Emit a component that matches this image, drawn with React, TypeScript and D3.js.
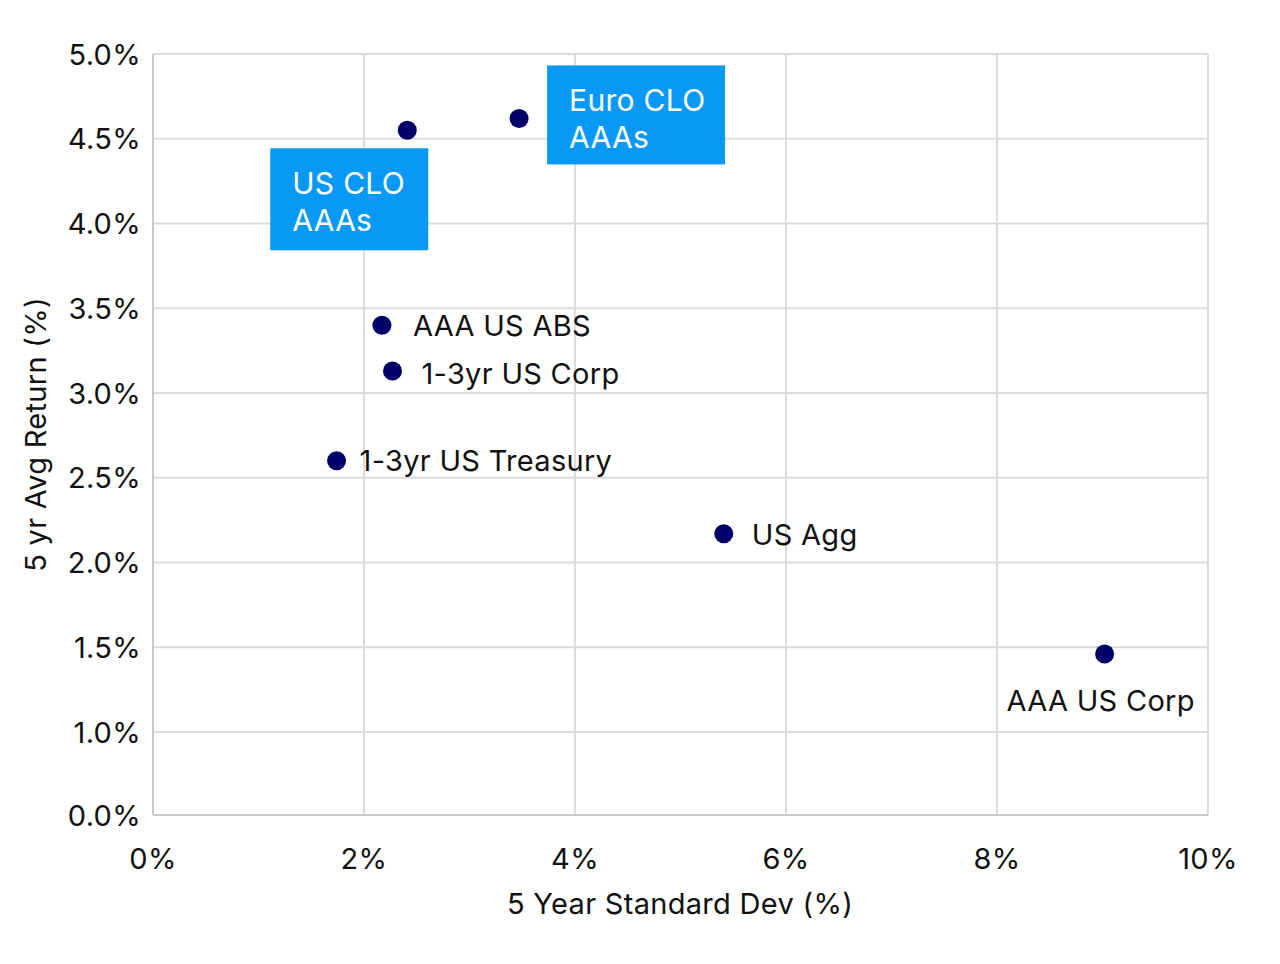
import React from "react";
import * as d3 from "d3";

// Risk / return by asset class
const labels = [
  "US CLO AAAs",
  "Euro CLO AAAs",
  "AAA US ABS",
  "1-3yr US Corp",
  "1-3yr US Treasury",
  "US Agg",
  "AAA US Corp",
];
const stdDev = [2.41, 3.47, 2.17, 2.27, 1.74, 5.41, 9.02];
const avgReturn = [4.55, 4.62, 3.4, 3.13, 2.6, 2.17, 1.46];

const xTicks = [0, 2, 4, 6, 8, 10];
const yTicks = [0, 1, 1.5, 2, 2.5, 3, 3.5, 4, 4.5, 5];

const W = 1280;
const H = 964;
const M = { left: 153, right: 72, top: 54, bottom: 149 };
const FONT = "Inter, 'Noto Sans', sans-serif";
const NAVY = "#000068";
const BLUE = "#0899f6";
const FS = 29;
const LS = 0.3;

type LabelStyle =
  | { kind: "right"; dx: number; dy: number }
  | { kind: "below"; dy: number }
  | { kind: "box"; bx: number; by: number; bw: number; bh: number; lines: string[] };

const labelStyles: LabelStyle[] = [
  { kind: "box", bx: -137, by: 18, bw: 158, bh: 102, lines: ["US CLO", "AAAs"] },
  { kind: "box", bx: 28, by: -53, bw: 178, bh: 99, lines: ["Euro CLO", "AAAs"] },
  { kind: "right", dx: 31, dy: 0 },
  { kind: "right", dx: 29, dy: 3 },
  { kind: "right", dx: 23, dy: 0 },
  { kind: "right", dx: 28, dy: 1 },
  { kind: "below", dy: 46 },
];

export default function App() {
  const x = d3.scaleLinear().domain([0, 10]).range([M.left, W - M.right]);
  // Axis jumps from 0% straight to 1%, then runs evenly in 0.5% steps
  const y = d3
    .scaleLinear()
    .domain([0, 1, 5])
    .range([H - M.bottom, H - M.bottom - 83, M.top]);

  const x0 = M.left;
  const x1 = W - M.right;
  const y0 = H - M.bottom;
  const y1 = M.top;

  return (
    <svg
      width={W}
      height={H}
      style={{ position: "absolute", left: 0, top: 0, background: "#fff" }}
      fontFamily={FONT}
      letterSpacing={LS}
    >
      {/* grid */}
      {yTicks.map((t) => (
        <line key={"gy" + t} x1={x0} x2={x1} y1={y(t)} y2={y(t)} stroke="#dcdcdc" strokeWidth={2} />
      ))}
      {xTicks.map((t) => (
        <line key={"gx" + t} x1={x(t)} x2={x(t)} y1={y0} y2={y1} stroke="#dcdcdc" strokeWidth={2} />
      ))}
      {/* axis lines */}
      <line x1={x0} x2={x0} y1={y0} y2={y1} stroke="#c9c9c9" strokeWidth={2} />
      <line x1={x0} x2={x1} y1={y0} y2={y0} stroke="#c9c9c9" strokeWidth={2} />

      {/* tick labels */}
      {yTicks.map((t) => (
        <text
          key={"ty" + t}
          x={141}
          y={y(t)}
          textAnchor="end"
          dominantBaseline="central"
          fontSize={FS}
          fill="#111"
        >
          {d3.format(".1f")(t) + "%"}
        </text>
      ))}
      {xTicks.map((t) => (
        <text
          key={"tx" + t}
          x={x(t)}
          y={858}
          textAnchor="middle"
          dominantBaseline="central"
          fontSize={FS}
          fill="#111"
        >
          {t + "%"}
        </text>
      ))}

      {/* axis titles */}
      <text x={680} y={903} textAnchor="middle" dominantBaseline="central" fontSize={FS} fill="#111">
        5 Year Standard Dev (%)
      </text>
      <text
        transform={`translate(35, ${(y0 + y1) / 2}) rotate(-90)`}
        textAnchor="middle"
        dominantBaseline="central"
        fontSize={FS}
        fill="#111"
      >
        5 yr Avg Return (%)
      </text>

      {/* points and labels */}
      {labels.map((name, i) => {
        const px = x(stdDev[i]);
        const py = y(avgReturn[i]);
        const s = labelStyles[i];
        let lab: React.ReactNode = null;
        if (s.kind === "right") {
          lab = (
            <text x={px + s.dx} y={py + s.dy} dominantBaseline="central" fontSize={FS} fill="#111">
              {name}
            </text>
          );
        } else if (s.kind === "below") {
          lab = (
            <text x={px - 4} y={py + s.dy} textAnchor="middle" dominantBaseline="central" fontSize={FS} fill="#111">
              {name}
            </text>
          );
        } else {
          lab = (
            <g>
              <rect x={px + s.bx} y={py + s.by} width={s.bw} height={s.bh} fill={BLUE} />
              {s.lines.map((ln, k) => (
                <text
                  key={k}
                  x={px + s.bx + 22}
                  y={py + s.by + 46 + k * 37}
                  fontSize={30}
                  fill="#fff"
                >
                  {ln}
                </text>
              ))}
            </g>
          );
        }
        return (
          <g key={name}>
            {lab}
            <circle cx={px} cy={py} r={9.5} fill={NAVY} />
          </g>
        );
      })}
    </svg>
  );
}
